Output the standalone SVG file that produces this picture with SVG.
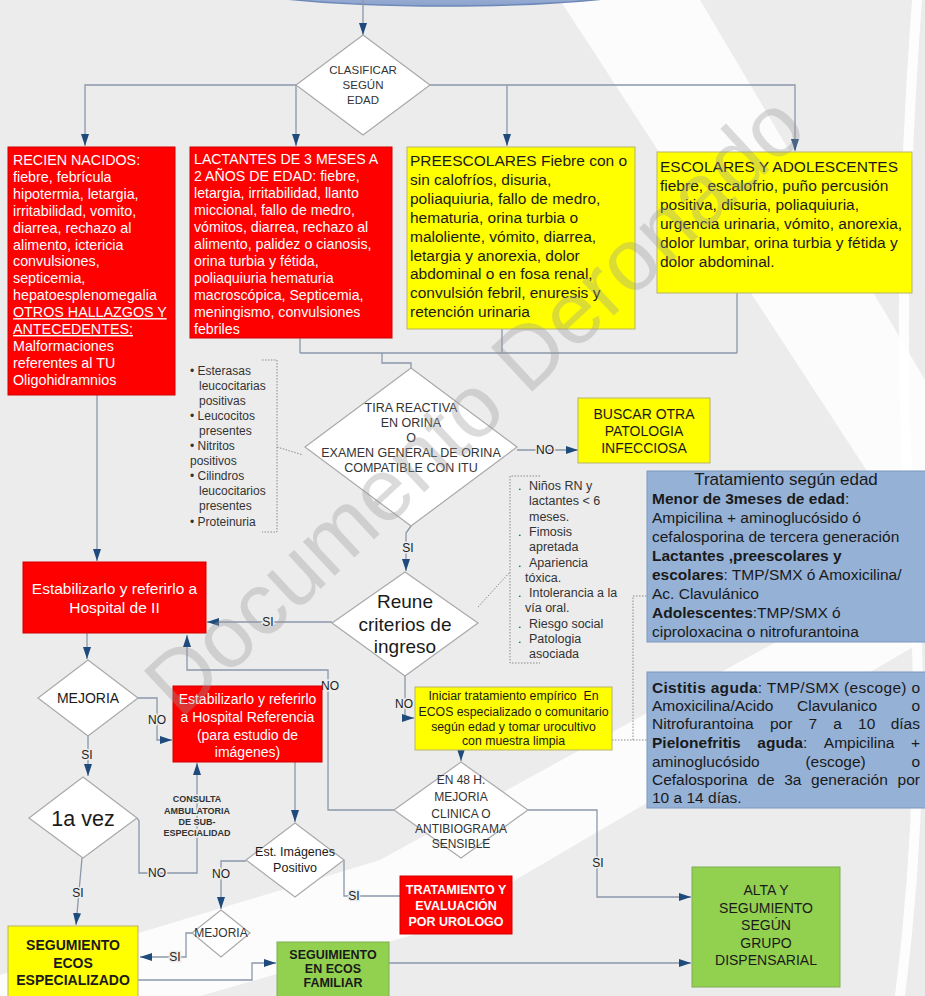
<svg xmlns="http://www.w3.org/2000/svg" width="925" height="996" viewBox="0 0 925 996">
<defs>
  <marker id="ah" viewBox="0 0 12 8" markerWidth="12" markerHeight="8" refX="12" refY="4" orient="auto" markerUnits="userSpaceOnUse">
    <path d="M0,0 L12,4 L0,8 Z" fill="#1f4a7c"/>
  </marker>
  <linearGradient id="topg" x1="0" y1="0" x2="0" y2="1">
    <stop offset="0" stop-color="#e8eef8"/>
    <stop offset="1" stop-color="#8aa2cc"/>
  </linearGradient>
</defs>
<style>
  text{font-family:"Liberation Sans",Arial,sans-serif}
  .ln{fill:none;stroke:#8b97ab;stroke-width:1.3}
  .ar{marker-end:url(#ah)}
  .dot{fill:none;stroke:#8a8a8a;stroke-width:1;stroke-dasharray:1.5 1.5}
  .dia{fill:#fff;stroke:#a9a9a9;stroke-width:1.2}
  .red{fill:#ff0000;stroke:#d00000;stroke-width:1}
  .yel{fill:#ffff00;stroke:#b5b36a;stroke-width:1}
  .grn{fill:#92d050;stroke:#7fae50;stroke-width:1}
  .blu{fill:#95b1d6;stroke:#7d98c0;stroke-width:1}
  .wt{fill:#fff}
  .dk{fill:#1a1a1a}
  .gt{fill:#333}
  .c{text-anchor:middle}
  .e{text-anchor:end}
  .b{font-weight:bold}
  .lbl{font-size:12px;fill:#222;stroke:#ececec;stroke-width:3;paint-order:stroke;text-anchor:middle}
</style>

<!-- background -->
<rect width="925" height="996" fill="#ececec"/>
<g id="backdrop" fill="#ffffff">
  <polygon points="560,0 700,0 925,380 925,560" opacity="0.85"/>
  <polygon points="0,975 380,860 925,560 925,640 430,930 200,996 0,996" opacity="0.85"/>
  <path d="M912,0 Q890,300 905,520 Q925,760 895,996 L905,996 Q935,760 915,520 Q900,300 922,0 Z" opacity="0.9"/>
</g>

<!-- header shape -->
<g id="header"><ellipse cx="445" cy="-22" rx="240" ry="28" fill="url(#topg)" stroke="#6d88b8" stroke-width="1.5"/></g>

<!-- connectors -->
<g id="connectors">
  <path class="ln ar" d="M363,0 V35"/>
  <path class="ln ar" d="M296,85 H85 V146"/>
  <path class="ln ar" d="M296,85 V146"/>
  <path class="ln ar" d="M430,85 H795 V151"/>
  <path class="ln ar" d="M507,85 V146"/>
  <path class="ln" d="M300,338 V353 M502,329 V353 M737,293 V353 M300,353 H737 M382,353 V363 H411 V368"/>
  <path class="ln ar" d="M517,450 H578"/>
  <path class="ln ar" d="M411,526 L406,533 V571"/>
  <path class="ln ar" d="M332,622 H207"/>
  <path class="ln ar" d="M97,395 V561"/>
  <path class="ln ar" d="M87,633 V659"/>
  <path class="ln ar" d="M138,698 H157 V740 H172"/>
  <path class="ln ar" d="M88,736 V776"/>
  <path class="ln ar" d="M82,858 L76,925"/>
  <path class="ln ar" d="M137,818 L139,821 V873 H197 V763"/>
  <path class="ln ar" d="M394,810 H328 V670 H187 V635"/>
  <path class="ln ar" d="M295,762 V822"/>
  <path class="ln ar" d="M246,861 H221 V909"/>
  <path class="ln ar" d="M192,933 H186 V957 H140"/>
  <path class="ln" d="M344,860 V896 H400"/>
  <path class="ln ar" d="M138,980 H252 V963 H276"/>
  <path class="ln ar" d="M389,963 H691"/>
  <path class="ln ar" d="M528,810 H597 V897 H691"/>
  <path class="ln ar" d="M405,676 V718 H414"/>
  <path class="ln ar" d="M461,750 V761"/>
  <path class="dot" d="M262,360 H277 V532 H262 M277,447 L303,455"/>
  <path class="dot" d="M540,476 H510 V663 H540 M478,607 L510,572"/>
  <path class="dot" d="M612,740 H633 V596 H647 M633,740 H647"/>
  <text class="lbl" x="545" y="454">NO</text>
  <text class="lbl" x="408" y="552">SI</text>
  <text class="lbl" x="268" y="626">SI</text>
  <text class="lbl" x="157" y="724">NO</text>
  <text class="lbl" x="87" y="759">SI</text>
  <text class="lbl" x="78" y="897">SI</text>
  <text class="lbl" x="157" y="877">NO</text>
  <text class="lbl" x="330" y="690">NO</text>
  <text class="lbl" x="221" y="878">NO</text>
  <text class="lbl" x="175" y="961">SI</text>
  <text class="lbl" x="354" y="900">SI</text>
  <text class="lbl" x="598" y="867">SI</text>
  <text class="lbl" x="404" y="708">NO</text>
  <g font-size="9" font-weight="bold" class="c" fill="#333" stroke="#ececec" stroke-width="3" paint-order="stroke">
    <text x="197" y="802">CONSULTA</text>
    <text x="197" y="814">AMBULATORIA</text>
    <text x="197" y="825">DE SUB-</text>
    <text x="197" y="836">ESPECIALIDAD</text>
  </g>
</g>

<!-- decision: classify by age -->
<g id="clasificar">
  <polygon class="dia" points="363,35 430,85 363,135 296,85"/>
  <g font-size="11.5" class="c gt">
    <text x="363" y="74">CLASIFICAR</text>
    <text x="363" y="89">SEGÚN</text>
    <text x="363" y="104">EDAD</text>
  </g>
</g>

<g id="recien-nacidos">
  <rect class="red" x="8" y="147" width="167" height="248"/>
  <text class="wt" font-size="14.3" x="13" y="165">
    <tspan x="13">RECIEN NACIDOS:</tspan>
    <tspan x="13" dy="16.9">fiebre, febrícula</tspan>
    <tspan x="13" dy="16.9">hipotermia, letargia,</tspan>
    <tspan x="13" dy="16.9">irritabilidad, vomito,</tspan>
    <tspan x="13" dy="16.9">diarrea, rechazo al</tspan>
    <tspan x="13" dy="16.9">alimento, ictericia</tspan>
    <tspan x="13" dy="16.9">convulsiones,</tspan>
    <tspan x="13" dy="16.9">septicemia,</tspan>
    <tspan x="13" dy="16.9">hepatoesplenomegalia</tspan>
    <tspan x="13" dy="16.9" text-decoration="underline">OTROS HALLAZGOS Y</tspan>
    <tspan x="13" dy="16.9" text-decoration="underline">ANTECEDENTES:</tspan>
    <tspan x="13" dy="16.9">Malformaciones</tspan>
    <tspan x="13" dy="16.9">referentes al TU</tspan>
    <tspan x="13" dy="16.9">Oligohidramnios</tspan>
  </text>
</g>

<g id="lactantes">
  <rect class="red" x="190" y="147" width="202" height="191"/>
  <text class="wt" font-size="14.2" x="194" y="164">
    <tspan x="194">LACTANTES DE 3 MESES A</tspan>
    <tspan x="194" dy="17">2 AÑOS DE EDAD: fiebre,</tspan>
    <tspan x="194" dy="17">letargia, irritabilidad, llanto</tspan>
    <tspan x="194" dy="17">miccional, fallo de medro,</tspan>
    <tspan x="194" dy="17">vómitos, diarrea, rechazo al</tspan>
    <tspan x="194" dy="17">alimento, palidez o cianosis,</tspan>
    <tspan x="194" dy="17">orina turbia y fétida,</tspan>
    <tspan x="194" dy="17">poliaquiuria hematuria</tspan>
    <tspan x="194" dy="17">macroscópica, Septicemia,</tspan>
    <tspan x="194" dy="17">meningismo, convulsiones</tspan>
    <tspan x="194" dy="17">febriles</tspan>
  </text>
</g>

<g id="preescolares">
  <rect class="yel" x="407" y="147" width="228" height="182"/>
  <text class="dk" font-size="15.5" x="410" y="166">
    <tspan x="410">PREESCOLARES Fiebre con o</tspan>
    <tspan x="410" dy="18.9">sin calofríos, disuria,</tspan>
    <tspan x="410" dy="18.9">poliaquiuria, fallo de medro,</tspan>
    <tspan x="410" dy="18.9">hematuria, orina turbia o</tspan>
    <tspan x="410" dy="18.9">maloliente, vómito, diarrea,</tspan>
    <tspan x="410" dy="18.9">letargia y anorexia, dolor</tspan>
    <tspan x="410" dy="18.9">abdominal o en fosa renal,</tspan>
    <tspan x="410" dy="18.9">convulsión febril, enuresis y</tspan>
    <tspan x="410" dy="18.9">retención urinaria</tspan>
  </text>
</g>

<g id="escolares">
  <rect class="yel" x="657" y="152" width="255" height="141"/>
  <text class="dk" font-size="15.5" x="660" y="172">
    <tspan x="660">ESCOLARES Y ADOLESCENTES</tspan>
    <tspan x="660" dy="19">fiebre, escalofrio, puño percusión</tspan>
    <tspan x="660" dy="19">positiva, disuria, poliaquiuria,</tspan>
    <tspan x="660" dy="19">urgencia urinaria, vómito, anorexia,</tspan>
    <tspan x="660" dy="19">dolor lumbar, orina turbia y fétida y</tspan>
    <tspan x="660" dy="19">dolor abdominal.</tspan>
  </text>
</g>

<g id="tira-reactiva">
  <polygon class="dia" points="411,368 517,447 411,526 305,447"/>
  <g font-size="12.5" class="c gt">
    <text x="411" y="412">TIRA REACTIVA</text>
    <text x="411" y="427">EN ORINA</text>
    <text x="411" y="442">O</text>
    <text x="411" y="457">EXAMEN GENERAL DE ORINA</text>
    <text x="411" y="472">COMPATIBLE CON ITU</text>
  </g>
</g>

<g id="hallazgos-orina" font-size="12" class="gt">
  <text x="190" y="374.5">• Esterasas</text>
  <text x="199" y="389.6">leucocitarias</text>
  <text x="199" y="404.7">positivas</text>
  <text x="190" y="419.8">• Leucocitos</text>
  <text x="199" y="434.9">presentes</text>
  <text x="190" y="450">• Nitritos</text>
  <text x="190" y="465.1">positivos</text>
  <text x="190" y="480.2">• Cilindros</text>
  <text x="199" y="495.3">leucocitarios</text>
  <text x="199" y="510.4">presentes</text>
  <text x="190" y="525.5">• Proteinuria</text>
</g>

<g id="buscar-otra">
  <rect class="yel" x="578" y="398" width="132" height="65"/>
  <g font-size="14" class="c dk">
    <text x="644" y="419">BUSCAR OTRA</text>
    <text x="644" y="436">PATOLOGIA</text>
    <text x="644" y="453">INFECCIOSA</text>
  </g>
</g>

<g id="criterios-ingreso" font-size="12.5" class="gt">
  <text x="518" y="490">.</text><text x="529" y="490">Niños RN y</text>
  <text x="529" y="505.3">lactantes &lt; 6</text>
  <text x="529" y="520.6">meses.</text>
  <text x="518" y="535.9">.</text><text x="529" y="535.9">Fimosis</text>
  <text x="529" y="551.2">apretada</text>
  <text x="518" y="566.5">.</text><text x="529" y="566.5">Apariencia</text>
  <text x="525" y="581.8">tóxica.</text>
  <text x="518" y="597.1">.</text><text x="529" y="597.1">Intolerancia a la</text>
  <text x="525" y="612.4">vía oral.</text>
  <text x="518" y="627.7">.</text><text x="529" y="627.7">Riesgo social</text>
  <text x="518" y="643">.</text><text x="529" y="643">Patologia</text>
  <text x="529" y="658.3">asociada</text>
</g>

<g id="tratamiento-edad">
  <rect class="blu" x="647" y="471" width="280" height="171"/>
  <text class="c dk" font-size="17" x="786" y="485">Tratamiento según edad</text>
  <g font-size="15.5" class="dk">
    <text x="652" y="504"><tspan class="b">Menor de 3meses de edad</tspan>:</text>
    <text x="652" y="523">Ampicilina + aminoglucósido ó</text>
    <text x="652" y="542">cefalosporina de tercera generación</text>
    <text x="652" y="561" class="b">Lactantes ,preescolares y</text>
    <text x="652" y="580"><tspan class="b">escolares</tspan>: TMP/SMX ó Amoxicilina/</text>
    <text x="652" y="599">Ac. Clavulánico</text>
    <text x="652" y="618"><tspan class="b">Adolescentes</tspan>:TMP/SMX ó</text>
    <text x="652" y="637">ciproloxacina o nitrofurantoina</text>
  </g>
</g>

<g id="reune-criterios">
  <polygon class="dia" points="405,572 478,623 405,676 332,623"/>
  <g font-size="19" class="c dk">
    <text x="405" y="608">Reune</text>
    <text x="405" y="631">criterios de</text>
    <text x="405" y="653">ingreso</text>
  </g>
</g>

<g id="estabilizar-hospital-ii">
  <rect class="red" x="23" y="562" width="183" height="71"/>
  <g font-size="15.5" class="c wt">
    <text x="114.5" y="594">Estabilizarlo y referirlo a</text>
    <text x="114.5" y="613">Hospital de II</text>
  </g>
</g>

<g id="mejoria">
  <polygon class="dia" points="88,660 138,698 88,736 38,698"/>
  <text class="c dk" font-size="14" x="88" y="703">MEJORIA</text>
</g>

<g id="estabilizar-referencia">
  <rect class="red" x="173" y="686" width="149" height="76"/>
  <g font-size="14" class="c wt">
    <text x="247.5" y="704">Estabilizarlo y referirlo</text>
    <text x="247.5" y="722">a Hospital Referencia</text>
    <text x="247.5" y="740">(para estudio de</text>
    <text x="247.5" y="757">imágenes)</text>
  </g>
</g>

<g id="iniciar-tratamiento">
  <rect class="yel" x="415" y="687" width="197" height="63"/>
  <g font-size="12.3" class="c dk">
    <text x="513.5" y="700">Iniciar tratamiento empírico&#160; En</text>
    <text x="513.5" y="716">ECOS especializado o comunitario</text>
    <text x="513.5" y="731">según edad y tomar urocultivo</text>
    <text x="513.5" y="745">con muestra limpia</text>
  </g>
</g>

<g id="tratamiento-infeccion">
  <rect class="blu" x="647" y="672" width="280" height="136"/>
  <g font-size="15.5" class="dk">
    <text x="652" y="692.5" textLength="268" lengthAdjust="spacing"><tspan class="b">Cistitis aguda</tspan>: TMP/SMX (escoge) o</text>
    <text x="652" y="710.5">Amoxicilina/Acido</text><text x="797" y="710.5">Clavulanico</text><text class="e" x="920" y="710.5">o</text>
    <text x="652" y="728.5">Nitrofurantoina</text><text x="770" y="728.5">por</text><text x="808.5" y="728.5">7</text><text x="833.3" y="728.5">a</text><text x="858.1" y="728.5">10</text><text class="e" x="920" y="728.5">días</text>
    <text x="652" y="747.5" class="b">Pielonefritis</text><text x="757.3" y="747.5"><tspan class="b">aguda</tspan>:</text><text x="823.8" y="747.5">Ampicilina</text><text class="e" x="920" y="747.5">+</text>
    <text x="652" y="766.5">aminoglucósido</text><text x="805.4" y="766.5">(escoge)</text><text class="e" x="920" y="766.5">o</text>
    <text x="652" y="784.5">Cefalosporina</text><text x="757.3" y="784.5">de</text><text x="784.2" y="784.5">3a</text><text x="811.1" y="784.5">generación</text><text class="e" x="920" y="784.5">por</text>
    <text x="652" y="802.5">10 a 14 días.</text>
  </g>
</g>

<g id="primera-vez">
  <polygon class="dia" points="83,777 137,818 83,858 29,818"/>
  <text class="c dk" font-size="21.5" x="83" y="826">1a vez</text>
</g>

<g id="est-imagenes">
  <polygon class="dia" points="295,823 344,860 295,897 246,860"/>
  <g font-size="12.5" class="c dk">
    <text x="295" y="856">Est. Imágenes</text>
    <text x="295" y="872">Positivo</text>
  </g>
</g>

<g id="evolucion-48h">
  <polygon class="dia" points="461,762 528,810 461,858 394,810"/>
  <g font-size="12" class="c gt">
    <text x="461" y="784">EN 48 H.</text>
    <text x="461" y="801">MEJORIA</text>
    <text x="461" y="818">CLINICA O</text>
    <text x="461" y="833">ANTIBIOGRAMA</text>
    <text x="461" y="848">SENSIBLE</text>
  </g>
</g>

<g id="mejoria-imagenes">
  <polygon class="dia" points="221,910 250,933 221,957 192,933"/>
  <text class="c gt" font-size="12" x="221" y="937">MEJORIA</text>
</g>

<g id="urologo">
  <rect class="red" x="400" y="876" width="112" height="58"/>
  <g font-size="12.5" class="c wt b">
    <text x="456" y="894">TRATAMIENTO Y</text>
    <text x="456" y="910">EVALUACIÓN</text>
    <text x="456" y="926">POR UROLOGO</text>
  </g>
</g>

<g id="seguimiento-especializado">
  <rect class="yel" x="8" y="926" width="130" height="75"/>
  <g font-size="14" class="c dk b">
    <text x="73" y="950">SEGUMIENTO</text>
    <text x="73" y="968">ECOS</text>
    <text x="73" y="985">ESPECIALIZADO</text>
  </g>
</g>

<g id="seguimiento-familiar">
  <rect class="grn" x="277" y="942" width="112" height="60"/>
  <g font-size="12.5" class="c dk b">
    <text x="333" y="959">SEGUIMIENTO</text>
    <text x="333" y="973">EN ECOS</text>
    <text x="333" y="987">FAMILIAR</text>
  </g>
</g>

<g id="alta">
  <rect class="grn" x="692" y="867" width="148" height="120"/>
  <g font-size="14" class="c dk">
    <text x="766" y="895">ALTA Y</text>
    <text x="766" y="912.5">SEGUMIENTO</text>
    <text x="766" y="930">SEGÚN</text>
    <text x="766" y="947.5">GRUPO</text>
    <text x="766" y="965">DISPENSARIAL</text>
  </g>
</g>

<!-- watermark -->
<text font-size="88" fill="#9a9a9a" opacity="0.35" transform="translate(180,720) rotate(-43)">Documento Deronado</text>
</svg>
